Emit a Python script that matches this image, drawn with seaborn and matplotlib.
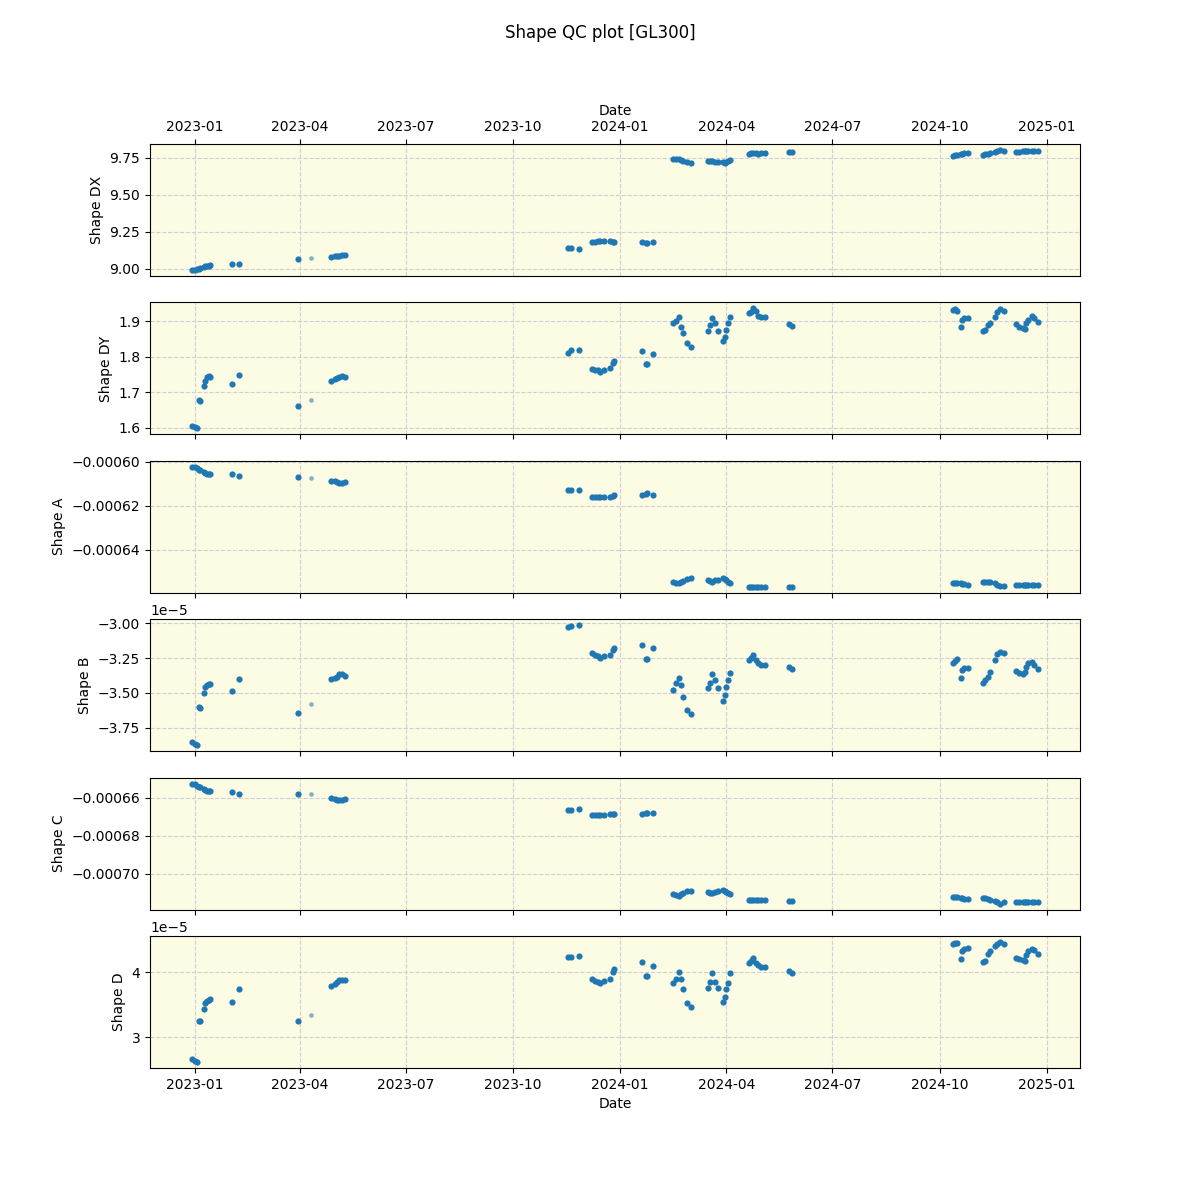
import matplotlib
matplotlib.use("Agg")
import matplotlib.pyplot as plt
import seaborn as sns
import pandas as pd

dates = [
    "2022-12-30", "2023-01-01", "2023-01-03", "2023-01-05", "2023-01-06", "2023-01-09", "2023-01-10", "2023-01-12", "2023-01-13", "2023-01-14",
    "2023-02-02", "2023-02-08",
    "2023-03-31", "2023-04-11",
    "2023-04-28", "2023-05-01", "2023-05-03", "2023-05-05", "2023-05-07", "2023-05-10",
    "2023-11-17", "2023-11-20", "2023-11-27",
    "2023-12-08", "2023-12-10", "2023-12-13", "2023-12-15", "2023-12-18", "2023-12-23", "2023-12-26", "2023-12-27",
    "2024-01-20", "2024-01-23", "2024-01-24", "2024-01-29",
    "2024-02-15", "2024-02-18", "2024-02-20", "2024-02-22", "2024-02-24", "2024-02-27", "2024-03-02",
    "2024-03-16", "2024-03-18", "2024-03-20", "2024-03-22", "2024-03-25", "2024-03-29", "2024-03-31", "2024-04-01", "2024-04-02", "2024-04-04",
    "2024-04-20", "2024-04-22", "2024-04-24", "2024-04-26", "2024-04-28", "2024-05-01", "2024-05-04",
    "2024-05-25", "2024-05-27",
    "2024-10-12", "2024-10-14", "2024-10-16", "2024-10-19", "2024-10-20", "2024-10-22", "2024-10-25",
    "2024-11-07", "2024-11-09", "2024-11-11", "2024-11-13", "2024-11-17", "2024-11-19", "2024-11-22", "2024-11-25",
    "2024-12-05", "2024-12-08", "2024-12-11", "2024-12-13", "2024-12-14", "2024-12-16", "2024-12-19", "2024-12-21", "2024-12-24",
]

flagged = [0] * 13 + [1] + [0] * 71

shape_dx = [
    8.990, 8.990, 8.995, 9.000, 9.005, 9.010, 9.015, 9.020, 9.020, 9.022,
    9.032, 9.032,
    9.066, 9.072,
    9.079, 9.082, 9.085, 9.088, 9.090, 9.092,
    9.140, 9.140, 9.133,
    9.180, 9.182, 9.185, 9.187, 9.190, 9.185, 9.182, 9.180,
    9.178, 9.175, 9.175, 9.178,
    9.743, 9.743, 9.742, 9.738, 9.732, 9.725, 9.718,
    9.727, 9.727, 9.726, 9.725, 9.725, 9.720, 9.718, 9.722, 9.730, 9.736,
    9.780, 9.782, 9.783, 9.782, 9.780, 9.781, 9.781,
    9.789, 9.789,
    9.764, 9.767, 9.770, 9.775, 9.777, 9.782, 9.782,
    9.770, 9.774, 9.778, 9.782, 9.789, 9.797, 9.804, 9.800,
    9.793, 9.793, 9.794, 9.794, 9.795, 9.795, 9.795, 9.795, 9.795,
]

shape_dy = [
    1.606, 1.602, 1.598, 1.678, 1.676, 1.718, 1.733, 1.742, 1.746, 1.743,
    1.723, 1.748,
    1.662, 1.678,
    1.732, 1.737, 1.741, 1.743, 1.745, 1.743,
    1.810, 1.820, 1.820,
    1.765, 1.763, 1.763, 1.757, 1.763, 1.768, 1.784, 1.789,
    1.817, 1.780, 1.780, 1.808,
    1.895, 1.900, 1.912, 1.885, 1.868, 1.839, 1.827,
    1.874, 1.890, 1.911, 1.897, 1.873, 1.845, 1.857, 1.876, 1.897, 1.914,
    1.923, 1.928, 1.937, 1.930, 1.915, 1.912, 1.912,
    1.893, 1.887,
    1.932, 1.934, 1.930, 1.885, 1.904, 1.909, 1.909,
    1.874, 1.876, 1.890, 1.897, 1.914, 1.928, 1.935, 1.930,
    1.892, 1.885, 1.881, 1.879, 1.895, 1.904, 1.915, 1.909, 1.899,
]

shape_a = [
    -6.023e-4, -6.025e-4, -6.030e-4, -6.036e-4, -6.038e-4, -6.047e-4, -6.050e-4, -6.055e-4, -6.057e-4, -6.057e-4,
    -6.057e-4, -6.066e-4,
    -6.070e-4, -6.075e-4,
    -6.087e-4, -6.089e-4, -6.090e-4, -6.096e-4, -6.098e-4, -6.094e-4,
    -6.129e-4, -6.129e-4, -6.129e-4,
    -6.162e-4, -6.160e-4, -6.158e-4, -6.160e-4, -6.162e-4, -6.160e-4, -6.155e-4, -6.152e-4,
    -6.152e-4, -6.147e-4, -6.144e-4, -6.152e-4,
    -6.547e-4, -6.549e-4, -6.550e-4, -6.545e-4, -6.540e-4, -6.533e-4, -6.527e-4,
    -6.538e-4, -6.540e-4, -6.543e-4, -6.538e-4, -6.535e-4, -6.527e-4, -6.530e-4, -6.538e-4, -6.545e-4, -6.550e-4,
    -6.567e-4, -6.567e-4, -6.566e-4, -6.566e-4, -6.566e-4, -6.566e-4, -6.566e-4,
    -6.566e-4, -6.566e-4,
    -6.550e-4, -6.550e-4, -6.550e-4, -6.551e-4, -6.553e-4, -6.555e-4, -6.557e-4,
    -6.547e-4, -6.547e-4, -6.547e-4, -6.547e-4, -6.550e-4, -6.557e-4, -6.565e-4, -6.562e-4,
    -6.557e-4, -6.557e-4, -6.558e-4, -6.559e-4, -6.560e-4, -6.560e-4, -6.559e-4, -6.558e-4, -6.557e-4,
]

shape_b = [
    -3.855e-5, -3.866e-5, -3.876e-5, -3.605e-5, -3.610e-5, -3.502e-5, -3.455e-5, -3.442e-5, -3.438e-5, -3.436e-5,
    -3.486e-5, -3.402e-5,
    -3.645e-5, -3.581e-5,
    -3.402e-5, -3.390e-5, -3.383e-5, -3.364e-5, -3.364e-5, -3.376e-5,
    -3.026e-5, -3.017e-5, -3.014e-5,
    -3.212e-5, -3.230e-5, -3.236e-5, -3.252e-5, -3.235e-5, -3.229e-5, -3.193e-5, -3.176e-5,
    -3.157e-5, -3.257e-5, -3.257e-5, -3.181e-5,
    -3.479e-5, -3.431e-5, -3.390e-5, -3.443e-5, -3.531e-5, -3.621e-5, -3.652e-5,
    -3.467e-5, -3.426e-5, -3.364e-5, -3.407e-5, -3.467e-5, -3.562e-5, -3.514e-5, -3.460e-5, -3.407e-5, -3.360e-5,
    -3.264e-5, -3.250e-5, -3.229e-5, -3.264e-5, -3.283e-5, -3.300e-5, -3.298e-5,
    -3.312e-5, -3.331e-5,
    -3.288e-5, -3.270e-5, -3.260e-5, -3.395e-5, -3.336e-5, -3.324e-5, -3.324e-5,
    -3.426e-5, -3.410e-5, -3.383e-5, -3.348e-5, -3.264e-5, -3.224e-5, -3.210e-5, -3.217e-5,
    -3.343e-5, -3.355e-5, -3.364e-5, -3.348e-5, -3.312e-5, -3.283e-5, -3.276e-5, -3.300e-5, -3.331e-5,
]

shape_c = [
    -6.526e-4, -6.528e-4, -6.537e-4, -6.543e-4, -6.546e-4, -6.556e-4, -6.560e-4, -6.563e-4, -6.566e-4, -6.567e-4,
    -6.570e-4, -6.581e-4,
    -6.581e-4, -6.581e-4,
    -6.600e-4, -6.605e-4, -6.610e-4, -6.612e-4, -6.612e-4, -6.607e-4,
    -6.665e-4, -6.665e-4, -6.660e-4,
    -6.691e-4, -6.691e-4, -6.690e-4, -6.691e-4, -6.691e-4, -6.688e-4, -6.686e-4, -6.684e-4,
    -6.684e-4, -6.680e-4, -6.679e-4, -6.682e-4,
    -7.107e-4, -7.110e-4, -7.114e-4, -7.105e-4, -7.100e-4, -7.091e-4, -7.088e-4,
    -7.095e-4, -7.098e-4, -7.100e-4, -7.095e-4, -7.091e-4, -7.084e-4, -7.088e-4, -7.095e-4, -7.100e-4, -7.103e-4,
    -7.139e-4, -7.139e-4, -7.138e-4, -7.137e-4, -7.137e-4, -7.137e-4, -7.137e-4,
    -7.142e-4, -7.142e-4,
    -7.121e-4, -7.122e-4, -7.123e-4, -7.126e-4, -7.128e-4, -7.131e-4, -7.133e-4,
    -7.126e-4, -7.128e-4, -7.130e-4, -7.135e-4, -7.144e-4, -7.150e-4, -7.156e-4, -7.150e-4,
    -7.147e-4, -7.147e-4, -7.147e-4, -7.148e-4, -7.148e-4, -7.148e-4, -7.147e-4, -7.147e-4, -7.147e-4,
]

shape_d = [
    2.662e-5, 2.636e-5, 2.620e-5, 3.251e-5, 3.255e-5, 3.441e-5, 3.533e-5, 3.560e-5, 3.575e-5, 3.585e-5,
    3.549e-5, 3.738e-5,
    3.246e-5, 3.349e-5,
    3.790e-5, 3.820e-5, 3.850e-5, 3.877e-5, 3.880e-5, 3.877e-5,
    4.235e-5, 4.240e-5, 4.250e-5,
    3.892e-5, 3.870e-5, 3.850e-5, 3.840e-5, 3.870e-5, 3.900e-5, 4.005e-5, 4.046e-5,
    4.164e-5, 3.940e-5, 3.940e-5, 4.097e-5,
    3.840e-5, 3.900e-5, 4.005e-5, 3.900e-5, 3.740e-5, 3.533e-5, 3.472e-5,
    3.764e-5, 3.850e-5, 3.985e-5, 3.850e-5, 3.764e-5, 3.549e-5, 3.626e-5, 3.738e-5, 3.840e-5, 3.985e-5,
    4.138e-5, 4.180e-5, 4.226e-5, 4.150e-5, 4.108e-5, 4.082e-5, 4.085e-5,
    4.020e-5, 3.995e-5,
    4.431e-5, 4.450e-5, 4.456e-5, 4.210e-5, 4.328e-5, 4.354e-5, 4.370e-5,
    4.164e-5, 4.170e-5, 4.277e-5, 4.328e-5, 4.405e-5, 4.431e-5, 4.466e-5, 4.431e-5,
    4.226e-5, 4.200e-5, 4.190e-5, 4.174e-5, 4.262e-5, 4.328e-5, 4.364e-5, 4.343e-5, 4.277e-5,
]

columns = ["Shape DX", "Shape DY", "Shape A", "Shape B", "Shape C", "Shape D"]

df = pd.DataFrame({
    "Date": pd.to_datetime(dates),
    "flag": flagged,
    "Shape DX": shape_dx,
    "Shape DY": shape_dy,
    "Shape A": shape_a,
    "Shape B": shape_b,
    "Shape C": shape_c,
    "Shape D": shape_d,
})
good = df[df["flag"] == 0]
bad = df[df["flag"] == 1]

fig, axes = plt.subplots(6, 1, figsize=(12, 12), dpi=100, sharex=True)
point_color = "#1f77b4"

for ax, col in zip(axes, columns):
    ax.set_facecolor("#fcfbe3")
    sns.scatterplot(data=good, x="Date", y=col, ax=ax, color=point_color,
                    s=20, linewidth=0, zorder=3)
    sns.scatterplot(data=bad, x="Date", y=col, ax=ax, color=point_color,
                    s=11, linewidth=0, alpha=0.55, zorder=3)
    ax.grid(True, linestyle="--", color="#cfcfd4", linewidth=0.8)
    ax.set_ylabel(col)
    ax.set_xlabel("")

axes[0].xaxis.tick_top()
axes[0].xaxis.set_label_position("top")
axes[0].tick_params(axis="x", labeltop=True)
axes[0].set_xlabel("Date")
axes[0].xaxis.label.set_visible(True)
axes[-1].set_xlabel("Date")

fig.suptitle("Shape QC plot [GL300]")
fig.savefig("out.png", dpi=100)
